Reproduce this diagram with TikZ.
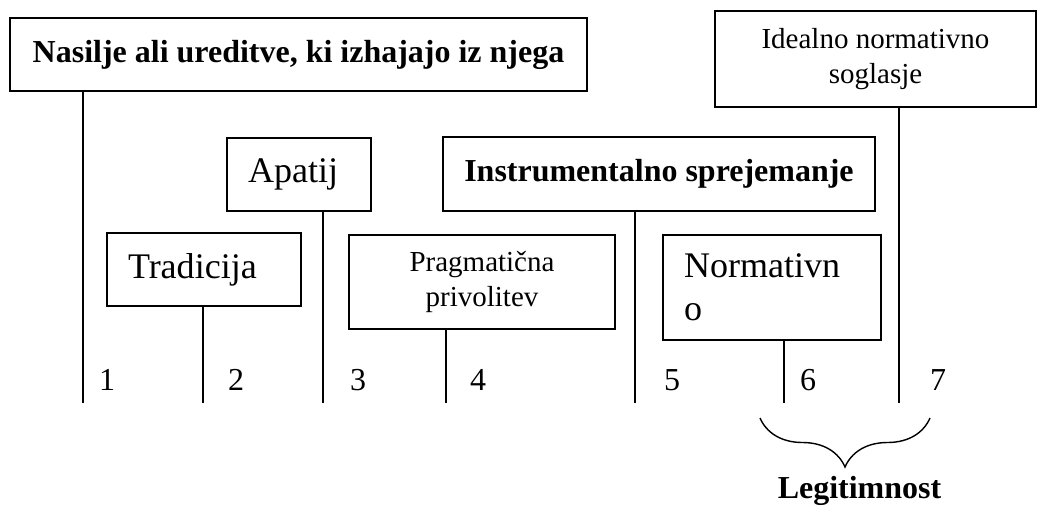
\documentclass[tikz,border=0pt]{standalone}
\usepackage{fontspec}
\setmainfont{Liberation Serif}
\usetikzlibrary{decorations.pathreplacing}

\begin{document}
\begin{tikzpicture}[
  box/.style={draw, line width=1.1pt, inner sep=0pt, align=center},
  lbox/.style={box, align=left, inner xsep=0.42cm},
  big/.style={font=\fontsize{20.5}{24.5}\selectfont},
  small/.style={font=\fontsize{16.5}{19.5}\selectfont},
  heavy/.style={font=\fontsize{18.2}{21}\selectfont\bfseries},
  num/.style={font=\fontsize{18.2}{21}\selectfont},
  link/.style={line width=0.8pt}]
\useasboundingbox (0,0) rectangle (20.76,10.12);
% boxes
\node[box, heavy, minimum width=11.54cm, minimum height=1.46cm] (nasilje) at (5.97,9.03) {Nasilje ali ureditve, ki izhajajo iz njega};
\node[box, small, minimum width=6.42cm, minimum height=1.92cm] (ideal) at (17.51,8.94) {Idealno normativno\\soglasje};
\node[lbox, big, text width=2.04cm, minimum height=1.46cm] (apatij) at (5.98,6.63) {Apatij};
\node[box, heavy, minimum width=8.64cm, minimum height=1.48cm] (instr) at (13.18,6.64) {Instrumentalno sprejemanje};
\node[lbox, big, text width=3.04cm, minimum height=1.46cm] (trad) at (4.08,4.73) {Tradicija};
\node[box, small, minimum width=5.32cm, minimum height=1.88cm] (pragm) at (9.64,4.48) {Pragmatična\\privolitev};
\node[lbox, big, text width=3.52cm, minimum height=2.1cm] (norm) at (15.44,4.37) {Normativn\\o};
% lines down to the scale
\foreach \b/\x [count=\i] in {nasilje/1.66, trad/4.06, apatij/6.46, pragm/8.92, instr/12.7, norm/15.68, ideal/17.98} {
  \coordinate (e\i) at (\x,2.06);
  \draw[link] (\b.south -| e\i) -- (e\i);
}
\foreach \n/\x in {1/2.14, 2/4.72, 3/7.16, 4/9.56, 5/13.44, 6/16.16, 7/18.76}
  \node[num] (n\n) at (\x,2.52) {\n};
% brace
\coordinate (bl) at (15.2,1.76);
\coordinate (br) at (18.6,1.76);
\draw[link, decorate, decoration={brace, amplitude=0.98cm}] (br) -- (bl);
\node[heavy, anchor=base] (legit) at (17.19,0.16) {Legitimnost};
\end{tikzpicture}
\end{document}
